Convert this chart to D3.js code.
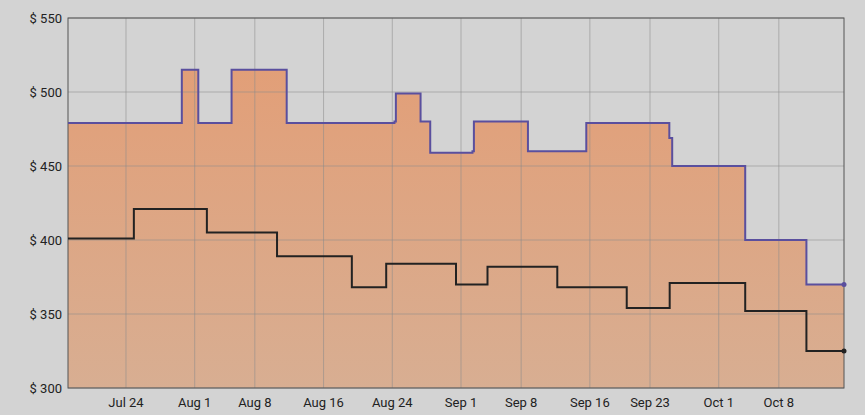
<!DOCTYPE html>
<html><head><meta charset="utf-8">
<script src="https://cdn.jsdelivr.net/npm/d3@7"></script>
<style>body{margin:0;background:#d3d3d3;font-family:Roboto,sans-serif}</style>
</head><body><div id="chart"></div>
<script>
// step change dates and prices
let highDates = ["2023-07-17T06:00","2023-07-30T12:00","2023-08-01T10:00","2023-08-05T07:00","2023-08-11T17:00","2023-08-24T06:00","2023-08-24T10:00","2023-08-27T07:00","2023-08-28T10:00","2023-09-02T08:00","2023-09-02T12:00","2023-09-08T19:00","2023-09-15T14:00","2023-09-25T06:00","2023-09-25T14:00","2023-10-04T02:00","2023-10-11T05:00","2023-10-15T14:00"];
let highValues = [479,515,479,515,479,480,499,480,459,460,480,460,479,469,450,400,370,370];
let lowDates = ["2023-07-17T06:00","2023-07-24T22:00","2023-08-02T10:00","2023-08-10T14:00","2023-08-19T07:00","2023-08-23T07:00","2023-08-31T10:00","2023-09-04T02:00","2023-09-12T05:00","2023-09-20T07:00","2023-09-25T07:00","2023-10-04T02:00","2023-10-11T05:00","2023-10-15T14:00"];
let lowValues = [401,421,405,389,368,384,370,382,368,354,371,352,325,325];
let yTicks = [300,350,400,450,500,550];
let xTicks = ["2023-07-24","2023-08-01","2023-08-08","2023-08-16","2023-08-24","2023-09-01","2023-09-08","2023-09-16","2023-09-23","2023-10-01","2023-10-08"];

let width = 865, height = 415;
let m = {left: 68, right: 21, top: 18, bottom: 27};
let parse = d3.isoParse;

let svg = d3.select("#chart").append("svg").attr("width", width).attr("height", height);

let x = d3.scaleTime()
    .domain([parse(highDates[0]), parse(highDates[highDates.length - 1])])
    .range([m.left, width - m.right]);
let y = d3.scaleLinear().domain([300, 550]).range([height - m.bottom, m.top]);

let grad = svg.append("defs").append("linearGradient").attr("id", "fillg")
    .attr("x1", 0).attr("y1", 0).attr("x2", 0).attr("y2", 1);
grad.append("stop").attr("offset", "0%").attr("stop-color", "#e29f78");
grad.append("stop").attr("offset", "100%").attr("stop-color", "#d8ae92");

let high = highDates.map((d, i) => ({date: parse(d), v: highValues[i]}));
let low = lowDates.map((d, i) => ({date: parse(d), v: lowValues[i]}));

svg.append("path")
    .attr("d", d3.area().curve(d3.curveStepAfter).x(d => x(d.date)).y0(y(300)).y1(d => y(d.v))(high))
    .attr("fill", "url(#fillg)");

// grid
svg.append("g").selectAll("line").data(yTicks).join("line")
    .attr("x1", m.left).attr("x2", width - m.right)
    .attr("y1", d => y(d)).attr("y2", d => y(d))
    .attr("stroke", "#8a8a8a").attr("stroke-opacity", 0.55);
svg.append("g").selectAll("line").data(xTicks).join("line")
    .attr("x1", d => x(parse(d))).attr("x2", d => x(parse(d)))
    .attr("y1", m.top).attr("y2", height - m.bottom)
    .attr("stroke", "#8a8a8a").attr("stroke-opacity", 0.55);

svg.append("rect").attr("x", m.left).attr("y", m.top)
    .attr("width", width - m.left - m.right).attr("height", height - m.top - m.bottom)
    .attr("fill", "none").attr("stroke", "#555");

let line = d3.line().curve(d3.curveStepAfter).x(d => x(d.date)).y(d => y(d.v));
svg.append("path").attr("d", line(high)).attr("fill", "none").attr("stroke", "#5a4f9e").attr("stroke-width", 2);
svg.append("path").attr("d", line(low)).attr("fill", "none").attr("stroke", "#222").attr("stroke-width", 2);

let lastH = high[high.length - 1], lastL = low[low.length - 1];
svg.append("circle").attr("cx", x(lastH.date)).attr("cy", y(lastH.v)).attr("r", 2.5).attr("fill", "#5a4f9e");
svg.append("circle").attr("cx", x(lastL.date)).attr("cy", y(lastL.v)).attr("r", 2.5).attr("fill", "#222");

svg.append("g").selectAll("text").data(yTicks).join("text")
    .attr("x", m.left - 6).attr("y", d => y(d)).attr("dy", "0.35em")
    .attr("text-anchor", "end").attr("font-size", 13).attr("fill", "#222")
    .text(d => "$ " + d);

let fmt = d3.timeFormat("%b %-d");
svg.append("g").selectAll("text").data(xTicks).join("text")
    .attr("x", d => x(parse(d))).attr("y", height - 8)
    .attr("text-anchor", "middle").attr("font-size", 13).attr("fill", "#222")
    .text(d => fmt(parse(d)));
</script></body></html>
